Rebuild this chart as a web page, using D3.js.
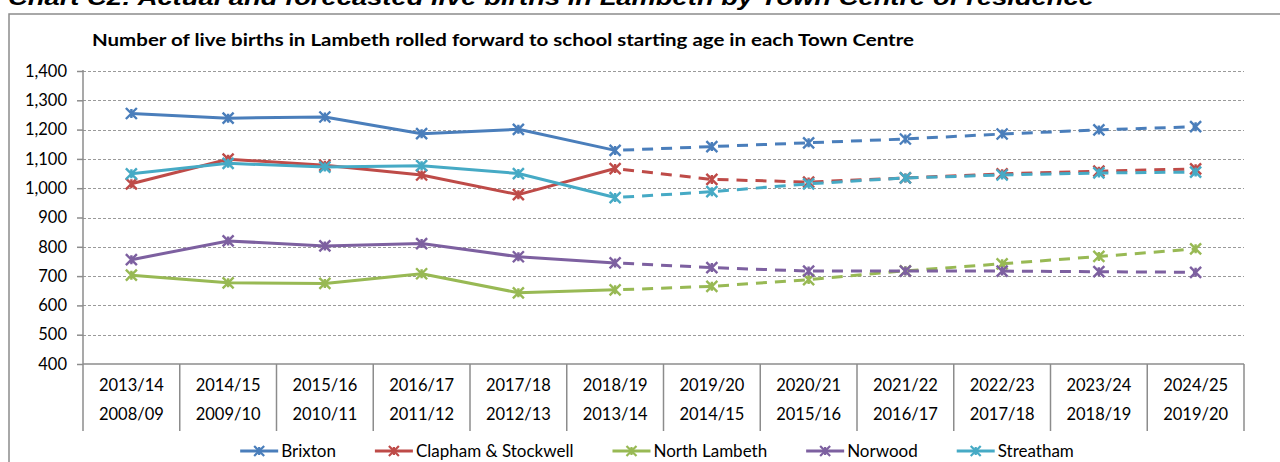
<!DOCTYPE html>
<html>
<head>
    <meta charset="utf-8"/>
    <title>Live births in Lambeth by Town Centre</title>
    <script src="https://d3js.org/d3.v7.min.js"></script>
    <style>
        body { margin: 0; background: #ffffff; }
        svg { display: block; }
        text { font-family: Lato, "Open Sans", sans-serif; fill: #000; }
    </style>
</head>
<body>
<div id="chart"></div>
<script>
    // school starting year (row 1) and birth year (row 2)
    const schoolYears = ['2013/14', '2014/15', '2015/16', '2016/17', '2017/18', '2018/19',
        '2019/20', '2020/21', '2021/22', '2022/23', '2023/24', '2024/25']
    const birthYears = ['2008/09', '2009/10', '2010/11', '2011/12', '2012/13', '2013/14',
        '2014/15', '2015/16', '2016/17', '2017/18', '2018/19', '2019/20']

    const seriesNames = ['Brixton', 'Clapham & Stockwell', 'North Lambeth', 'Norwood', 'Streatham']
    const brixton = [1255, 1239, 1243, 1186, 1201, 1129, 1142, 1155, 1168, 1185, 1199, 1210]
    const claphamStockwell = [1015, 1099, 1078, 1045, 978, 1067, 1030, 1021, 1035, 1049, 1058, 1066]
    const northLambeth = [703, 677, 675, 708, 643, 653, 665, 688, 718, 742, 767, 793]
    const norwood = [756, 820, 803, 811, 766, 745, 729, 717, 717, 717, 715, 713]
    const streatham = [1049, 1085, 1072, 1077, 1050, 968, 988, 1015, 1035, 1045, 1052, 1055]
    const seriesValues = [brixton, claphamStockwell, northLambeth, norwood, streatham]

    const yTicks = [400, 500, 600, 700, 800, 900, 1000, 1100, 1200, 1300, 1400]
    const lastActualIndex = 5

    const COLORS = ['#4a7ebb', '#be4b48', '#98b954', '#7d60a0', '#46aac5']
    const GRID_COLOR = '#9a9a9a'
    const AXIS_COLOR = '#8c8c8c'

    const WIDTH = 1280
    const HEIGHT = 462
    const plot = { left: 83, right: 1244, top: 71, bottom: 364 }

    const svg = d3.select('#chart')
        .append('svg')
        .attr('width', WIDTH)
        .attr('height', HEIGHT)

    const x = d3.scaleBand()
        .domain(schoolYears)
        .range([plot.left, plot.right])
        .padding(0)

    const y = d3.scaleLinear()
        .domain([400, 1400])
        .range([plot.bottom, plot.top])

    const cx = i => x(schoolYears[i]) + x.bandwidth() / 2

    drawHeading()
    drawFrame()
    drawGrid()
    drawAxes()
    drawSeries()
    drawLegend()

    function drawHeading() {
        // page caption above the chart box, clipped by the top edge as in the source
        svg.append('text')
            .attr('x', 8)
            .attr('y', 5)
            .attr('textLength', 1086)
            .attr('lengthAdjust', 'spacingAndGlyphs')
            .style('font-family', '"Liberation Sans", Arial, sans-serif')
            .style('font-style', 'italic')
            .style('font-weight', 'bold')
            .style('font-size', '22px')
            .text('Chart C2: Actual and forecasted live births in Lambeth by Town Centre of residence')
    }

    function drawFrame() {
        svg.append('rect')
            .attr('x', 9)
            .attr('y', 14)
            .attr('width', WIDTH + 10)
            .attr('height', HEIGHT)
            .style('fill', 'none')
            .style('stroke', AXIS_COLOR)
            .style('stroke-width', 1.5)

        svg.append('text')
            .attr('x', 92)
            .attr('y', 46)
            .attr('textLength', 822)
            .attr('lengthAdjust', 'spacingAndGlyphs')
            .style('font-weight', 'bold')
            .style('font-size', '17px')
            .text('Number of live births in Lambeth rolled forward to school starting age in each Town Centre')
    }

    function drawGrid() {
        svg.append('g')
            .selectAll('line')
            .data(yTicks.filter(t => t > 400))
            .join('line')
            .attr('x1', plot.left)
            .attr('x2', plot.right)
            .attr('y1', d => Math.round(y(d)) + 0.5)
            .attr('y2', d => Math.round(y(d)) + 0.5)
            .style('stroke', GRID_COLOR)
            .style('stroke-width', 1)
            .style('stroke-dasharray', '3 2')
    }

    function drawAxes() {
        const yAxis = svg.append('g')
            .attr('transform', `translate(${plot.left},0)`)
            .call(d3.axisLeft(y).tickValues(yTicks).tickSize(6).tickPadding(10)
                .tickFormat(d3.format(',')))
        yAxis.select('.domain').style('stroke', AXIS_COLOR).style('stroke-width', 1.5)
            .attr('d', `M0,${plot.top - 1}V${plot.bottom}`)
        yAxis.selectAll('.tick line').style('stroke', AXIS_COLOR).style('stroke-width', 1.5)
        yAxis.selectAll('.tick text')
            .style('font-family', 'Lato, sans-serif')
            .style('font-size', '16.5px')
            .style('fill', '#000')

        // category axis with two label rows and separators
        const xAxis = svg.append('g')
        xAxis.append('line')
            .attr('x1', plot.left).attr('x2', plot.right)
            .attr('y1', plot.bottom).attr('y2', plot.bottom)
            .style('stroke', AXIS_COLOR).style('stroke-width', 1.5)

        const bounds = schoolYears.map(d => x(d)).concat([plot.right])
        xAxis.selectAll('line.sep')
            .data(bounds)
            .join('line')
            .attr('class', 'sep')
            .attr('x1', d => d).attr('x2', d => d)
            .attr('y1', plot.bottom).attr('y2', 431)
            .style('stroke', AXIS_COLOR).style('stroke-width', 1.5)

        xAxis.selectAll('text.row1')
            .data(schoolYears)
            .join('text')
            .attr('class', 'row1')
            .attr('x', d => x(d) + x.bandwidth() / 2)
            .attr('y', 391)
            .attr('text-anchor', 'middle')
            .style('font-size', '16.5px')
            .text(d => d)

        xAxis.selectAll('text.row2')
            .data(birthYears)
            .join('text')
            .attr('class', 'row2')
            .attr('x', (d, i) => cx(i))
            .attr('y', 420)
            .attr('text-anchor', 'middle')
            .style('font-size', '16.5px')
            .text(d => d)
    }

    function starPath(px, py, r) {
        return `M${px - r},${py - r}L${px + r},${py + r}M${px - r},${py + r}L${px + r},${py - r}` +
            `M${px},${py - r + 1}L${px},${py + r - 1}`
    }

    function drawSeries() {
        const line = d3.line()
            .x(d => cx(d.i))
            .y(d => y(d.v))

        seriesValues.forEach((values, s) => {
            const pts = values.map((v, i) => ({ i, v }))
            const g = svg.append('g')

            g.append('path')
                .datum(pts.slice(0, lastActualIndex + 1))
                .attr('d', line)
                .style('fill', 'none')
                .style('stroke', COLORS[s])
                .style('stroke-width', 3)
                .style('stroke-linejoin', 'round')

            g.append('path')
                .datum(pts.slice(lastActualIndex))
                .attr('d', line)
                .style('fill', 'none')
                .style('stroke', COLORS[s])
                .style('stroke-width', 3)
                .style('stroke-dasharray', '11 8')
                .style('stroke-dashoffset', -8)

            g.selectAll('path.marker')
                .data(pts)
                .join('path')
                .attr('class', 'marker')
                .attr('d', d => starPath(cx(d.i), y(d.v), 5.5))
                .style('fill', 'none')
                .style('stroke', COLORS[s])
                .style('stroke-width', 2.4)
        })
    }

    function drawLegend() {
        const legend = svg.append('g')
        const lineLen = 38
        const gap = 3
        const spacing = 39
        const ly = 451

        // measure labels so the legend can be centred
        const items = seriesNames.map(name => {
            const t = legend.append('text')
                .style('font-size', '17px')
                .attr('y', ly + 6)
                .text(name)
            return { name, t, w: t.node().getComputedTextLength() }
        })
        const total = d3.sum(items, d => lineLen + gap + d.w) + spacing * (items.length - 1)
        let cursor = 657 - total / 2

        items.forEach((item, s) => {
            legend.append('line')
                .attr('x1', cursor).attr('x2', cursor + lineLen)
                .attr('y1', ly).attr('y2', ly)
                .style('stroke', COLORS[s])
                .style('stroke-width', 3)
            legend.append('path')
                .attr('d', starPath(cursor + lineLen / 2, ly, 5))
                .style('fill', 'none')
                .style('stroke', COLORS[s])
                .style('stroke-width', 2.2)
            item.t.attr('x', cursor + lineLen + gap)
            cursor += lineLen + gap + item.w + spacing
        })
    }
</script>
</body>
</html>
